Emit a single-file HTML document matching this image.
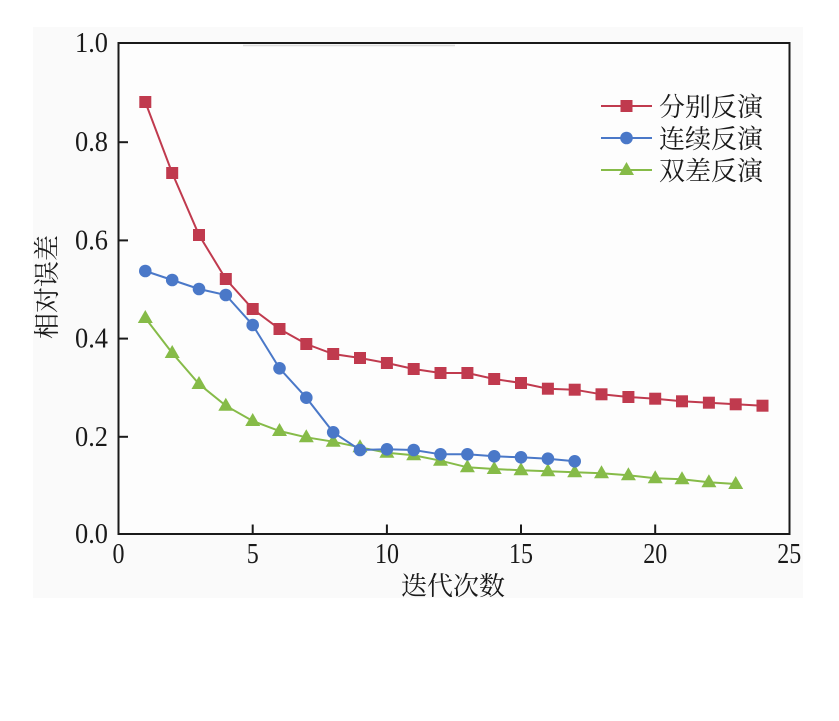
<!DOCTYPE html>
<html><head><meta charset="utf-8"><style>
html,body{margin:0;padding:0;background:#fff;}
svg{display:block;}
</style></head><body>
<svg width="839" height="721" viewBox="0 0 839 721" xmlns="http://www.w3.org/2000/svg">
<rect x="0" y="0" width="839" height="721" fill="#ffffff"/>
<rect x="33" y="27" width="770" height="571" fill="#fafafa"/>
<rect x="118.5" y="43" width="671" height="491" fill="#fdfdfd"/>
<line x1="243" y1="45.5" x2="455" y2="45.5" stroke="#dcdcdc" stroke-width="1.5"/>
<!-- axes -->
<rect x="118.5" y="43" width="671" height="491" fill="none" stroke="#1a1a1a" stroke-width="2"/>
<g stroke="#1a1a1a" stroke-width="2">
<line x1="118.5" y1="436.8" x2="128" y2="436.8"/>
<line x1="118.5" y1="338.6" x2="128" y2="338.6"/>
<line x1="118.5" y1="240.4" x2="128" y2="240.4"/>
<line x1="118.5" y1="142.2" x2="128" y2="142.2"/>
<line x1="252.7" y1="534" x2="252.7" y2="524.5"/>
<line x1="386.9" y1="534" x2="386.9" y2="524.5"/>
<line x1="521" y1="534" x2="521" y2="524.5"/>
<line x1="655.2" y1="534" x2="655.2" y2="524.5"/>
</g>
<g font-family="'Liberation Serif', serif" font-size="29" fill="#1a1a1a">
<text x="75" y="543" textLength="33" lengthAdjust="spacingAndGlyphs">0.0</text>
<text x="75" y="445.8" textLength="33" lengthAdjust="spacingAndGlyphs">0.2</text>
<text x="75" y="347.6" textLength="33" lengthAdjust="spacingAndGlyphs">0.4</text>
<text x="75" y="249.4" textLength="33" lengthAdjust="spacingAndGlyphs">0.6</text>
<text x="75" y="151.2" textLength="33" lengthAdjust="spacingAndGlyphs">0.8</text>
<text x="75" y="52" textLength="33" lengthAdjust="spacingAndGlyphs">1.0</text>
</g>
<g font-family="'Liberation Serif', serif" font-size="29" fill="#1a1a1a">
<text x="112.5" y="563" textLength="12" lengthAdjust="spacingAndGlyphs">0</text>
<text x="246.7" y="563" textLength="12" lengthAdjust="spacingAndGlyphs">5</text>
<text x="375" y="563" textLength="24" lengthAdjust="spacingAndGlyphs">10</text>
<text x="509" y="563" textLength="24" lengthAdjust="spacingAndGlyphs">15</text>
<text x="643.2" y="563" textLength="24" lengthAdjust="spacingAndGlyphs">20</text>
<text x="777.3" y="563" textLength="24" lengthAdjust="spacingAndGlyphs">25</text>
</g>
<text x="453" y="595" font-family="'Liberation Serif','Noto Serif CJK SC',serif" font-size="26" fill="#1a1a1a" text-anchor="middle">迭代次数</text>
<text transform="translate(56,287) rotate(-90)" x="0" y="0" font-family="'Liberation Serif','Noto Serif CJK SC',serif" font-size="26" fill="#1a1a1a" text-anchor="middle">相对误差</text>

<!-- red series -->
<polyline fill="none" stroke="#c03a4e" stroke-width="2" points="145.3,102 172.2,173 199,235 225.8,279 252.7,309 279.5,329 306.3,344 333.2,354 360,358 386.9,363 413.7,369 440.5,373 467.4,373 494.2,379 521,383 547.9,388.7 574.7,389.7 601.5,394.3 628.4,397 655.2,398.7 682,401.3 708.9,402.7 735.7,404.3 762.5,405.7"/>
<g fill="#c03a4e">
<rect x="139.3" y="96" width="12" height="12"/><rect x="166.2" y="167" width="12" height="12"/><rect x="193" y="229" width="12" height="12"/><rect x="219.8" y="273" width="12" height="12"/><rect x="246.7" y="303" width="12" height="12"/><rect x="273.5" y="323" width="12" height="12"/><rect x="300.3" y="338" width="12" height="12"/><rect x="327.2" y="348" width="12" height="12"/><rect x="354" y="352" width="12" height="12"/><rect x="380.9" y="357" width="12" height="12"/><rect x="407.7" y="363" width="12" height="12"/><rect x="434.5" y="367" width="12" height="12"/><rect x="461.4" y="367" width="12" height="12"/><rect x="488.2" y="373" width="12" height="12"/><rect x="515" y="377" width="12" height="12"/><rect x="541.9" y="382.7" width="12" height="12"/><rect x="568.7" y="383.7" width="12" height="12"/><rect x="595.5" y="388.3" width="12" height="12"/><rect x="622.4" y="391" width="12" height="12"/><rect x="649.2" y="392.7" width="12" height="12"/><rect x="676" y="395.3" width="12" height="12"/><rect x="702.9" y="396.7" width="12" height="12"/><rect x="729.7" y="398.3" width="12" height="12"/><rect x="756.5" y="399.7" width="12" height="12"/>
</g>

<!-- green series -->
<polyline fill="none" stroke="#86bb48" stroke-width="2" points="145.3,318 172.2,353 199,384 225.8,405.7 252.7,421 279.5,431 306.3,437.3 333.2,441.7 360,447.3 386.9,452.7 413.7,455.3 440.5,460.7 467.4,467.3 494.2,469 521,470.3 547.9,471.3 574.7,472.3 601.5,473.3 628.4,475.3 655.2,478.3 682,479.3 708.9,482.3 735.7,484"/>
<g fill="#86bb48">
<path d="M145.3,310 l7.5,13 h-15 z"/><path d="M172.2,345 l7.5,13 h-15 z"/><path d="M199,376 l7.5,13 h-15 z"/><path d="M225.8,397.7 l7.5,13 h-15 z"/><path d="M252.7,413 l7.5,13 h-15 z"/><path d="M279.5,423 l7.5,13 h-15 z"/><path d="M306.3,429.3 l7.5,13 h-15 z"/><path d="M333.2,433.7 l7.5,13 h-15 z"/><path d="M360,439.3 l7.5,13 h-15 z"/><path d="M386.9,444.7 l7.5,13 h-15 z"/><path d="M413.7,447.3 l7.5,13 h-15 z"/><path d="M440.5,452.7 l7.5,13 h-15 z"/><path d="M467.4,459.3 l7.5,13 h-15 z"/><path d="M494.2,461 l7.5,13 h-15 z"/><path d="M521,462.3 l7.5,13 h-15 z"/><path d="M547.9,463.3 l7.5,13 h-15 z"/><path d="M574.7,464.3 l7.5,13 h-15 z"/><path d="M601.5,465.3 l7.5,13 h-15 z"/><path d="M628.4,467.3 l7.5,13 h-15 z"/><path d="M655.2,470.3 l7.5,13 h-15 z"/><path d="M682,471.3 l7.5,13 h-15 z"/><path d="M708.9,474.3 l7.5,13 h-15 z"/><path d="M735.7,476 l7.5,13 h-15 z"/>
</g>

<!-- blue series -->
<polyline fill="none" stroke="#4a78c8" stroke-width="2" points="145.3,271 172.2,280 199,289 225.8,295 252.7,325 279.5,368.3 306.3,397.7 333.2,432.3 360,450 386.9,449.3 413.7,450 440.5,454.3 467.4,454.3 494.2,456.3 521,457.3 547.9,458.7 574.7,461.3"/>
<g fill="#4a78c8">
<circle cx="145.3" cy="271" r="6.3"/><circle cx="172.2" cy="280" r="6.3"/><circle cx="199" cy="289" r="6.3"/><circle cx="225.8" cy="295" r="6.3"/><circle cx="252.7" cy="325" r="6.3"/><circle cx="279.5" cy="368.3" r="6.3"/><circle cx="306.3" cy="397.7" r="6.3"/><circle cx="333.2" cy="432.3" r="6.3"/><circle cx="360" cy="450" r="6.3"/><circle cx="386.9" cy="449.3" r="6.3"/><circle cx="413.7" cy="450" r="6.3"/><circle cx="440.5" cy="454.3" r="6.3"/><circle cx="467.4" cy="454.3" r="6.3"/><circle cx="494.2" cy="456.3" r="6.3"/><circle cx="521" cy="457.3" r="6.3"/><circle cx="547.9" cy="458.7" r="6.3"/><circle cx="574.7" cy="461.3" r="6.3"/>
</g>

<!-- legend -->
<line x1="601" y1="106" x2="652" y2="106" stroke="#c03a4e" stroke-width="2"/>
<rect x="620.5" y="100" width="12" height="12" fill="#c03a4e"/>
<line x1="601" y1="138" x2="652" y2="138" stroke="#4a78c8" stroke-width="2"/>
<circle cx="626.5" cy="138" r="6.3" fill="#4a78c8"/>
<line x1="601" y1="170" x2="652" y2="170" stroke="#86bb48" stroke-width="2"/>
<path d="M626.5,162 l7.5,13 h-15 z" fill="#86bb48"/>
<g font-family="'Liberation Serif','Noto Serif CJK SC',serif" font-size="26" fill="#1a1a1a">
<text x="659" y="116">分别反演</text>
<text x="659" y="148">连续反演</text>
<text x="659" y="180">双差反演</text>
</g>
</svg>
</body></html>
